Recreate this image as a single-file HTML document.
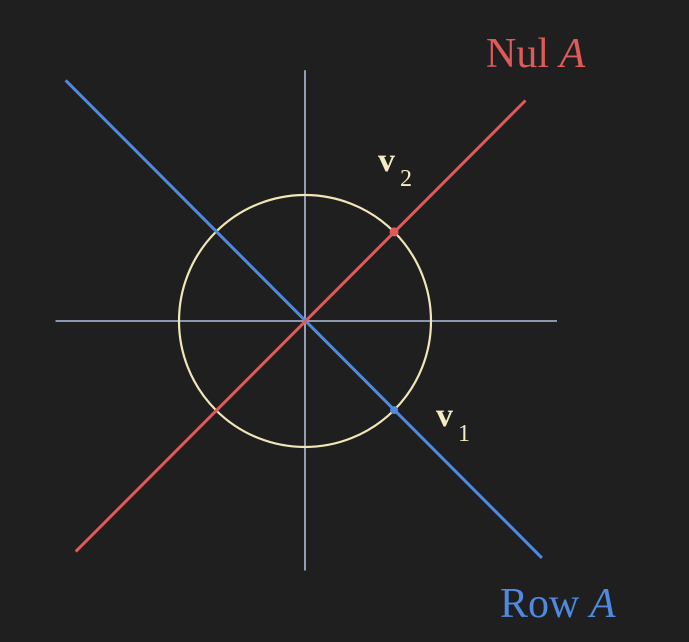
<!DOCTYPE html>
<html><head><meta charset="utf-8"><style>
html,body{margin:0;padding:0;background:#1f1f1f;}
svg{display:block;}
text{font-family:"Liberation Serif",serif;}
</style></head><body>
<svg id="chart" width="689" height="642" viewBox="0 0 689 642">
<rect width="689" height="642" fill="#1f1f1f"/>
<g id="g"></g>
<text x="486" y="67" font-size="42" fill="#e05a5a">Nul <tspan font-style="italic">A</tspan></text>
<text x="500" y="617" font-size="42" fill="#4f8ae0">Row <tspan font-style="italic">A</tspan></text>
<text x="378" y="171" font-size="34" font-weight="bold" fill="#f5ecc4">v<tspan font-size="24" font-weight="normal" dx="5" dy="15">2</tspan></text>
<text x="436" y="426" font-size="34" font-weight="bold" fill="#f5ecc4">v<tspan font-size="24" font-weight="normal" dx="5" dy="15">1</tspan></text>
</svg>
<script>
const axisX = [-1.98, 2.0];
const axisY = [-1.98, 1.99];
const rowLine = [[-1.90, 1.91], [1.88, -1.88]];
const nulLine = [[-1.82, -1.83], [1.75, 1.75]];
const circleR = [1.0];
const v1 = [0.707, -0.707];
const v2 = [0.707, 0.707];
const cx = 305, cy = 321, s = 126;
function X(v){return cx + v*s;}
function Y(v){return cy - v*s;}
const g = document.getElementById('g');
const NS = 'http://www.w3.org/2000/svg';
function mk(t, a){const e=document.createElementNS(NS,t);for(const k in a)e.setAttribute(k,a[k]);g.appendChild(e);return e;}
let e;
e = mk('line',{x1:X(axisX[0]),y1:Y(0),x2:X(axisX[1]),y2:Y(0),stroke:'#aebfdc','stroke-width':1.6});


e = mk('line',{x1:X(0),y1:Y(axisY[0]),x2:X(0),y2:Y(axisY[1]),stroke:'#aebfdc','stroke-width':1.6});


e = mk('circle',{cx:X(0),cy:Y(0),r:circleR[0]*s,fill:'none',stroke:'#f0e6b8','stroke-width':2.2});


e = mk('line',{x1:X(rowLine[0][0]),y1:Y(rowLine[0][1]),x2:X(rowLine[1][0]),y2:Y(rowLine[1][1]),stroke:'#4f8ae0','stroke-width':3});


e = mk('line',{x1:X(nulLine[0][0]),y1:Y(nulLine[0][1]),x2:X(nulLine[1][0]),y2:Y(nulLine[1][1]),stroke:'#e05a5a','stroke-width':3});


e = mk('circle',{cx:X(v1[0]),cy:Y(v1[1]),r:4,fill:'#4f8ae0'});


e = mk('circle',{cx:X(v2[0]),cy:Y(v2[1]),r:4.5,fill:'#e05a5a'});


</script>
</body></html>
